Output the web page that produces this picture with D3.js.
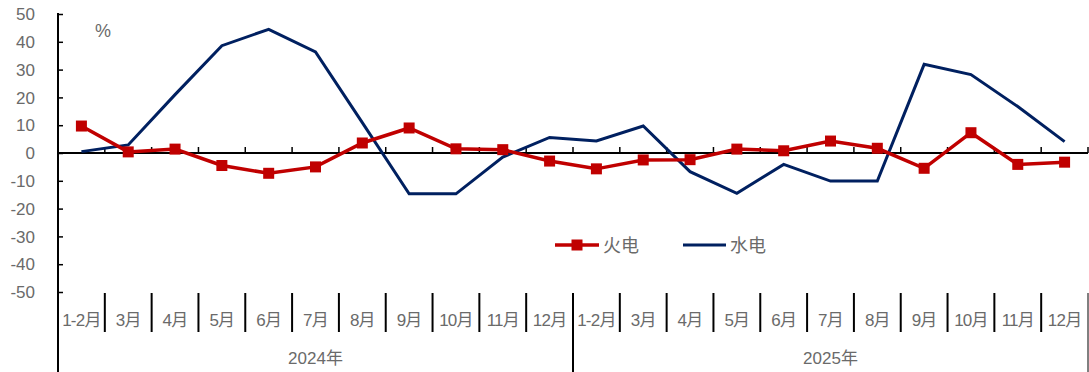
<!DOCTYPE html>
<html>
<head>
<meta charset="utf-8">
<script src="https://cdn.jsdelivr.net/npm/d3@7"></script>
<style>
body { margin: 0; background: #fff; }
text { font-family: "Liberation Sans", "Noto Sans CJK SC", sans-serif; fill: #6a6a6a; }
</style>
</head>
<body>
<div id="chart"></div>
<script>
// data
var years = ['2024年', '2025年'];
var months = ['1-2月', '3月', '4月', '5月', '6月', '7月', '8月', '9月', '10月', '11月', '12月'];
var thermal = [9.7, 0.4, 1.4, -4.5, -7.3, -5.0, 3.6, 9.0, 1.5, 1.2, -2.9,
               -5.7, -2.5, -2.4, 1.4, 0.8, 4.3, 1.7, -5.5, 7.3, -4.1, -3.3];
var hydro = [0.5, 2.9, 21.0, 38.6, 44.5, 36.4, 10.9, -14.7, -14.7, -1.5, 5.6,
             4.3, 9.7, -6.7, -14.5, -4.1, -10.1, -10.1, 31.9, 28.2, 16.7, 4.1];
var yTicks = [50, 40, 30, 20, 10, 0, -10, -20, -30, -40, -50];

var width = 1089, height = 372;
var plotL = 58, plotR = 1088, plotT = 14, plotB = 292;

var cats = [];
years.forEach(function (y) { months.forEach(function (m) { cats.push(y + '|' + m); }); });

var svg = d3.select('#chart').append('svg')
    .attr('width', width)
    .attr('height', height);

var x = d3.scaleBand().domain(cats).range([plotL, plotR]);
var y = d3.scaleLinear().domain([-50, 50]).range([plotB, plotT]);
var bw = x.bandwidth();

// y axis
var yAxis = svg.append('g').attr('transform', `translate(${plotL},0)`)
    .call(d3.axisRight(y).tickValues(yTicks).tickSize(5).tickFormat(d => String(d)));
yAxis.select('.domain').remove();
yAxis.selectAll('line').attr('stroke', '#000').attr('stroke-width', 1.5);
yAxis.selectAll('text').attr('x', -23).attr('text-anchor', 'end')
    .style('font-size', '17px').attr('dy', '0.34em');
svg.append('line').attr('x1', plotL).attr('x2', plotL).attr('y1', plotT - 1).attr('y2', height)
    .attr('stroke', '#000').attr('stroke-width', 2);

// zero line with ticks at category boundaries
svg.append('line').attr('x1', plotL).attr('x2', plotR).attr('y1', y(0)).attr('y2', y(0))
    .attr('stroke', '#000').attr('stroke-width', 2);
svg.append('g').selectAll('line').data(cats.slice(1)).join('line')
    .attr('x1', d => x(d)).attr('x2', d => x(d))
    .attr('y1', y(0)).attr('y2', y(0) - 6)
    .attr('stroke', '#000').attr('stroke-width', 1.5);
svg.append('line').attr('x1', plotR).attr('x2', plotR).attr('y1', y(0)).attr('y2', y(0) - 6)
    .attr('stroke', '#000').attr('stroke-width', 1.5);

// category labels and separators
var catG = svg.append('g');
catG.selectAll('line.sep').data(cats.slice(1)).join('line')
    .attr('class', 'sep')
    .attr('x1', d => x(d)).attr('x2', d => x(d))
    .attr('y1', plotB + 1).attr('y2', (d, i) => (i + 1) % months.length === 0 ? height : 332)
    .attr('stroke', '#000').attr('stroke-width', 2);
catG.append('line').attr('x1', plotR).attr('x2', plotR).attr('y1', plotB + 1).attr('y2', height)
    .attr('stroke', '#000').attr('stroke-width', 1);
catG.selectAll('text').data(cats).join('text')
    .attr('x', d => x(d) + bw / 2)
    .attr('y', 326)
    .attr('text-anchor', 'middle')
    .style('font-size', '17px')
    .style('letter-spacing', '-0.8px')
    .text(d => d.split('|')[1]);

svg.append('g').selectAll('text').data(years).join('text')
    .attr('x', (d, i) => x(d + '|' + months[0]) + bw * months.length / 2)
    .attr('y', 364)
    .attr('text-anchor', 'middle')
    .style('font-size', '17px')
    .text(d => d);

// percent label
svg.append('text').attr('x', 95).attr('y', 37).style('font-size', '18px').text('%');

// lines
var line = d3.line().x((d, i) => x(cats[i]) + bw / 2).y(d => y(d));

svg.append('path').datum(hydro)
    .attr('d', line).attr('fill', 'none')
    .attr('stroke', '#002060').attr('stroke-width', 3).attr('stroke-linejoin', 'miter');

svg.append('path').datum(thermal)
    .attr('d', line).attr('fill', 'none')
    .attr('stroke', '#C00000').attr('stroke-width', 3.5);
svg.append('g').selectAll('rect').data(thermal).join('rect')
    .attr('x', (d, i) => x(cats[i]) + bw / 2 - 5.5)
    .attr('y', d => y(d) - 5.5)
    .attr('width', 11).attr('height', 11)
    .attr('fill', '#C00000');

// legend
var lg = svg.append('g').attr('transform', 'translate(555,245)');
lg.append('line').attr('x1', 0).attr('x2', 44).attr('stroke', '#C00000').attr('stroke-width', 3.5);
lg.append('rect').attr('x', 16.5).attr('y', -5.5).attr('width', 11).attr('height', 11).attr('fill', '#C00000');
lg.append('text').attr('x', 48).attr('y', 7).style('font-size', '18px').text('火电');
lg.append('line').attr('x1', 128).attr('x2', 171).attr('stroke', '#002060').attr('stroke-width', 3);
lg.append('text').attr('x', 175).attr('y', 7).style('font-size', '18px').text('水电');
</script>
</body>
</html>
